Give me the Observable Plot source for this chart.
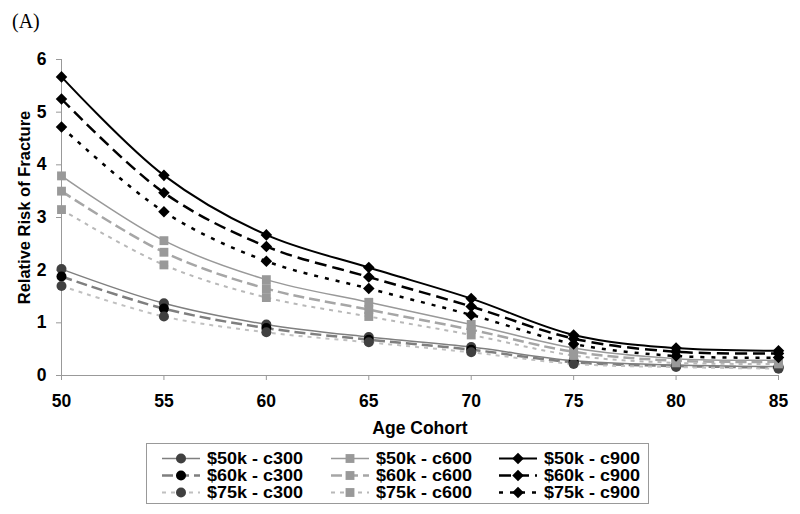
<!DOCTYPE html>
<html>
<head>
<meta charset="utf-8">
<script src="https://cdn.jsdelivr.net/npm/d3@7"></script>
<script src="https://cdn.jsdelivr.net/npm/@observablehq/plot@0.6"></script>
<style>
  html, body { margin: 0; padding: 0; background: #fff; }
  body { width: 800px; height: 514px; position: relative; overflow: hidden; font-family: "Liberation Sans", Arial, sans-serif; }
  #panel { position: absolute; left: 12px; top: 11px; z-index: 5; font-family: "Liberation Serif", "Times New Roman", serif; font-size: 20px; line-height: 20px; color: #000; }
  #chart { position: absolute; left: 0; top: 0; }
  #legend { position: absolute; left: 146px; top: 443px; width: 501px; height: 59px; border: 1px solid #999; box-sizing: content-box; background: #fff; }
  .item { position: absolute; display: flex; align-items: center; height: 17px; line-height: 17px; font-weight: bold; font-size: 16.5px; color: #000; white-space: nowrap; }
  .item svg { margin-right: 6px; flex: none; }
  .item span { display: inline-block; transform: scaleX(1.09); transform-origin: left center; }
</style>
</head>
<body>
<div id="chart"></div>
<div id="panel">(A)</div>
<div id="legend"></div>
<script>
const ages = [50, 55, 60, 65, 70, 75, 80, 85];
const seriesNames = [
  "$50k - c300", "$60k - c300", "$75k - c300",
  "$50k - c600", "$60k - c600", "$75k - c600",
  "$50k - c900", "$60k - c900", "$75k - c900"
];
const c300_50k = [2.02, 1.37, 0.97, 0.73, 0.54, 0.28, 0.20, 0.17];
const c300_60k = [1.88, 1.27, 0.90, 0.68, 0.49, 0.25, 0.18, 0.15];
const c300_75k = [1.70, 1.12, 0.82, 0.63, 0.44, 0.22, 0.16, 0.13];
const c600_50k = [3.79, 2.56, 1.82, 1.39, 0.97, 0.52, 0.32, 0.29];
const c600_60k = [3.50, 2.34, 1.65, 1.25, 0.87, 0.45, 0.28, 0.26];
const c600_75k = [3.15, 2.10, 1.48, 1.12, 0.77, 0.38, 0.24, 0.22];
const c900_50k = [5.67, 3.80, 2.67, 2.05, 1.46, 0.77, 0.52, 0.47];
const c900_60k = [5.25, 3.47, 2.45, 1.87, 1.31, 0.70, 0.45, 0.42];
const c900_75k = [4.72, 3.11, 2.17, 1.65, 1.15, 0.60, 0.37, 0.34];
const seriesValues = [c300_50k, c300_60k, c300_75k, c600_50k, c600_60k, c600_75k, c900_50k, c900_60k, c900_75k];
const yTicks = [0, 1, 2, 3, 4, 5, 6];

const styles = [
  {stroke: "#7f7f7f", width: 1.5, dash: null,   symbol: "circle",   fill: "#404040", r: 5},
  {stroke: "#7f7f7f", width: 2.5, dash: "11,5", symbol: "circle",   fill: "#000000", r: 5},
  {stroke: "#c0c0c0", width: 2,   dash: "4,5",  symbol: "circle",   fill: "#404040", r: 5},
  {stroke: "#999999", width: 1.5, dash: null,   symbol: "square",   fill: "#999999", r: 5},
  {stroke: "#a6a6a6", width: 2.5, dash: "11,5", symbol: "square",   fill: "#999999", r: 5},
  {stroke: "#b8b8b8", width: 2,   dash: "4,5",  symbol: "square",   fill: "#999999", r: 5},
  {stroke: "#000000", width: 2,   dash: null,   symbol: "diamond2", fill: "#000000", r: 5.2},
  {stroke: "#000000", width: 2.5, dash: "12,6", symbol: "diamond2", fill: "#000000", r: 5.2},
  {stroke: "#000000", width: 2.5, dash: "4,7",  symbol: "diamond2", fill: "#000000", r: 5.2}
];

const rows = [];
seriesNames.forEach((s, i) => ages.forEach((a, j) => rows.push({series: s, idx: i, age: a, value: seriesValues[i][j]})));

const marks = [
  Plot.ruleY([0], {stroke: "#999", strokeWidth: 1}),
  Plot.ruleX([50], {stroke: "#999", strokeWidth: 1}),
  Plot.axisX({ticks: ages, tickSize: 5, tickPadding: 14, stroke: "#999", fill: "#000",
    label: "Age Cohort", labelAnchor: "center", labelArrow: "none", labelOffset: 58, tickFormat: d => String(d)}),
  Plot.axisY({ticks: yTicks, tickSize: 5, tickPadding: 10, stroke: "#999", fill: "#000",
    label: "Relative Risk of Fracture", labelAnchor: "center", labelArrow: "none", labelOffset: 42, tickFormat: d => String(d)})
];
seriesNames.forEach((s, i) => {
  const st = styles[i];
  marks.push(Plot.line(rows.filter(d => d.idx === i), {
    x: "age", y: "value", curve: "catmull-rom", stroke: st.stroke, strokeWidth: st.width,
    strokeDasharray: st.dash || undefined, strokeLinecap: "butt"
  }));
});
seriesNames.forEach((s, i) => {
  const st = styles[i];
  marks.push(Plot.dot(rows.filter(d => d.idx === i), {
    x: "age", y: "value", symbol: st.symbol, fill: st.fill, stroke: "none", r: st.r
  }));
});

const chart = Plot.plot({
  width: 800, height: 442,
  marginLeft: 61, marginRight: 22, marginTop: 59, marginBottom: 67,
  x: {domain: [50, 85]},
  y: {domain: [0, 6]},
  style: {fontFamily: "Liberation Sans, Arial, sans-serif", background: "transparent"},
  marks
});
const setText = (sel, size) => chart.querySelectorAll(sel).forEach(t => {
  t.style.fontSize = size + "px";
  t.style.fontWeight = "bold";
  t.style.fontFamily = "Liberation Sans, Arial, sans-serif";
});
setText("g[aria-label='x-axis tick label'] text", 17.5);
setText("g[aria-label='y-axis tick label'] text", 17.5);
setText("g[aria-label='x-axis label'] text", 17.5);
setText("g[aria-label='y-axis label'] text", 16.5);
chart.querySelectorAll("g[aria-label='y-axis label']").forEach(g => {
  const prev = g.getAttribute("transform") || "";
  g.setAttribute("transform", "translate(-1,-10) " + prev);
});
document.getElementById("chart").appendChild(chart);

// legend
const legend = document.getElementById("legend");
const colX = [14, 183, 351];
const rowY = [5.5, 22.5, 39.5];
const symPath = {circle: d3.symbolCircle, square: d3.symbolSquare, diamond2: d3.symbolDiamond2};
seriesNames.forEach((s, i) => {
  const st = styles[i];
  const col = Math.floor(i / 3), row = i % 3;
  const item = document.createElement("div");
  item.className = "item";
  item.style.left = colX[col] + "px";
  item.style.top = rowY[row] + "px";
  const size = Math.PI * st.r * st.r;
  const p = d3.symbol(symPath[st.symbol], size)();
  item.innerHTML = `<svg width="40" height="17" viewBox="0 0 40 17">
    <line x1="1" x2="39" y1="8.5" y2="8.5" stroke="${st.stroke}" stroke-width="${st.width}" ${st.dash ? `stroke-dasharray="${st.dash}"` : ""}/>
    <path d="${p}" transform="translate(20,8.5)" fill="${st.fill}"/>
  </svg><span>${s}</span>`;
  legend.appendChild(item);
});
</script>
</body>
</html>
